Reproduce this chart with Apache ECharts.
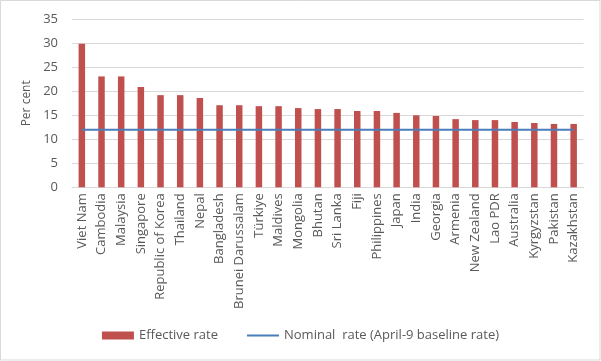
<!DOCTYPE html>
<html>
<head>
<meta charset="utf-8">
<script src="https://cdn.jsdelivr.net/npm/echarts@6/dist/echarts.min.js"></script>
<style>
html,body{margin:0;padding:0;background:#fff;}
#c{width:601px;height:361px;}
</style>
</head>
<body>
<div id="c"></div>
<script>
var categories = ['Viet Nam','Cambodia','Malaysia','Singapore','Republic of Korea','Thailand','Nepal','Bangladesh','Brunei Darussalam','Türkiye','Maldives','Mongolia','Bhutan','Sri Lanka','Fiji','Philippines','Japan','India','Georgia','Armenia','New Zealand','Lao PDR','Australia','Kyrgyzstan','Pakistan','Kazakhstan'];
var effectiveRate = [29.9,23.1,23.1,20.9,19.2,19.2,18.6,17.1,17.1,16.9,16.9,16.5,16.3,16.3,15.9,15.9,15.5,15.0,14.85,14.2,14.0,14.0,13.6,13.4,13.2,13.2];
var nominalRate = [12,12,12,12,12,12,12,12,12,12,12,12,12,12,12,12,12,12,12,12,12,12,12,12,12,12];
var yTicks = {min:0, max:35, interval:5};

var chart = echarts.init(document.getElementById('c'), null, {renderer:'canvas'});
var font = 'Open Sans';
chart.setOption({
  animation:false,
  backgroundColor:'#fff',
  textStyle:{fontFamily:font},
  graphic:[{type:'rect',shape:{x:0.5,y:0.5,width:599.5,height:359.5},style:{fill:'none',stroke:'#d9d9d9',lineWidth:1},silent:true}],
  grid:{left:72,right:17.5,top:19.3,bottom:173.7,containLabel:false},
  legend:{
    bottom:14, left:'center',
    itemWidth:32, itemHeight:8, itemGap:29,
    textStyle:{color:'#595959',fontSize:13,fontFamily:font},
    data:[{name:'Effective rate',icon:'rect'},{name:'Nominal  rate (April-9 baseline rate)',icon:'path://M0,0H34V2.2H0Z'}]
  },
  xAxis:{
    type:'category', data:categories,
    axisLine:{show:true,lineStyle:{color:'#d9d9d9'}},
    axisTick:{show:false},
    axisLabel:{rotate:90,interval:0,color:'#595959',fontSize:13,fontFamily:font,margin:6}
  },
  yAxis:{
    type:'value', min:yTicks.min, max:yTicks.max, interval:yTicks.interval,
    name:'Per cent', nameLocation:'middle', nameGap:32,
    nameTextStyle:{color:'#595959',fontSize:12,fontFamily:font},
    axisLine:{show:false}, axisTick:{show:false},
    axisLabel:{color:'#595959',fontSize:13,fontFamily:font,margin:14},
    splitLine:{lineStyle:{color:'#d9d9d9'}}
  },
  series:[
    {name:'Effective rate',type:'bar',data:effectiveRate,barWidth:'33%',itemStyle:{color:'#C0504D'}},
    {name:'Nominal  rate (April-9 baseline rate)',type:'line',data:nominalRate,symbol:'none',showSymbol:false,lineStyle:{color:'#4A7EBB',width:2},itemStyle:{color:'#4A7EBB'},z:3}
  ]
});
</script>
</body>
</html>
